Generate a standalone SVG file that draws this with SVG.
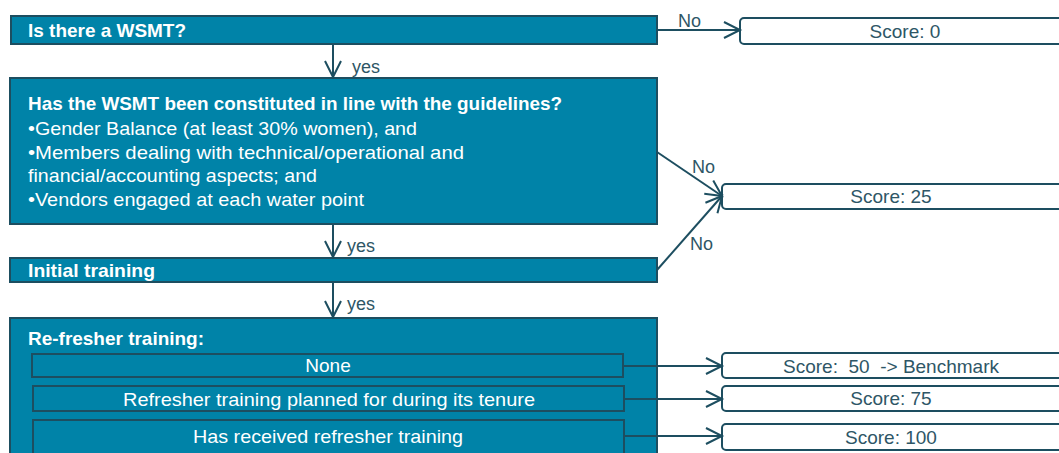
<svg xmlns="http://www.w3.org/2000/svg" width="1059" height="453" viewBox="0 0 1059 453">
<defs>
<style>
.box{fill:#0083a8;stroke:#1d4e60;stroke-width:2}
.sub{fill:#0083a8;stroke:#1d4e60;stroke-width:2}
.score{fill:#ffffff;stroke:#1d4e60;stroke-width:2}
.wt{fill:#ffffff;font-family:"Liberation Sans",Arial,sans-serif;font-size:19px}
.wb{fill:#ffffff;font-family:"Liberation Sans",Arial,sans-serif;font-size:19px;font-weight:bold}
.st{fill:#2e5666;font-family:"Liberation Sans",Arial,sans-serif;font-size:19px;text-anchor:middle;white-space:pre}
.lbl{fill:#2e5666;font-family:"Liberation Sans",Arial,sans-serif;font-size:18px}
.conn{fill:none;stroke:#1d4e60;stroke-width:2}
</style>
<marker id="arr" markerUnits="userSpaceOnUse" markerWidth="20" markerHeight="20" refX="17" refY="9" orient="auto" viewBox="0 0 20 18">
<path d="M1,1 L17,9 L1,17" fill="none" stroke="#1d4e60" stroke-width="2"/>
</marker>
</defs>
<g id="q1">
<rect class="box" x="11" y="16" width="646" height="28"/>
<text class="wb" x="28" y="37" textLength="158" lengthAdjust="spacingAndGlyphs">Is there a WSMT?</text>
</g>
<g id="s0">
<rect class="score" x="740" y="18" width="330" height="26" rx="4"/>
<text class="st" x="905" y="38">Score: 0</text>
</g>
<g id="q2">
<rect class="box" x="10" y="78" width="647" height="146"/>
<text class="wb" x="28" y="110" textLength="534" lengthAdjust="spacingAndGlyphs">Has the WSMT been constituted in line with the guidelines?</text>
<text class="wt" x="28" y="135" textLength="389" lengthAdjust="spacingAndGlyphs">•Gender Balance  (at least 30% women), and</text>
<text class="wt" x="28" y="159" textLength="436" lengthAdjust="spacingAndGlyphs">•Members dealing with technical/operational and</text>
<text class="wt" x="28" y="182" textLength="289" lengthAdjust="spacingAndGlyphs">financial/accounting aspects; and</text>
<text class="wt" x="28" y="206" textLength="336" lengthAdjust="spacingAndGlyphs">•Vendors engaged at each water point</text>
</g>
<g id="s25">
<rect class="score" x="722" y="184" width="340" height="25" rx="4"/>
<text class="st" x="891" y="203">Score: 25</text>
</g>
<g id="q3">
<rect class="box" x="10" y="258" width="647" height="24"/>
<text class="wb" x="28" y="277" textLength="127" lengthAdjust="spacingAndGlyphs">Initial training</text>
</g>
<g id="q4">
<rect class="box" x="10" y="318" width="647" height="140"/>
<text class="wb" x="28" y="345" textLength="176" lengthAdjust="spacingAndGlyphs">Re-fresher training:</text>
</g>
<g id="o1">
<rect class="sub" x="32" y="354" width="591" height="23"/>
<text class="wt" x="328" y="372" text-anchor="middle">None</text>
</g>
<g id="o2">
<rect class="sub" x="33" y="386" width="591" height="25"/>
<text class="wt" x="329" y="406" text-anchor="middle" textLength="412" lengthAdjust="spacingAndGlyphs">Refresher training planned for during its tenure</text>
</g>
<g id="o3">
<rect class="sub" x="33" y="420" width="591" height="34"/>
<text class="wt" x="328" y="443" text-anchor="middle" textLength="270" lengthAdjust="spacingAndGlyphs">Has received refresher training</text>
</g>
<g id="s50">
<rect class="score" x="722" y="353" width="340" height="25" rx="4"/>
<text class="st" x="891" y="373">Score:  50  -&gt; Benchmark</text>
</g>
<g id="s75">
<rect class="score" x="722" y="386" width="340" height="25" rx="4"/>
<text class="st" x="891" y="405">Score: 75</text>
</g>
<g id="s100">
<rect class="score" x="722" y="424" width="340" height="26" rx="4"/>
<text class="st" x="891" y="444">Score: 100</text>
</g>
<g id="connectors">
<line class="conn" x1="657" y1="30" x2="740" y2="30" marker-end="url(#arr)"/>
<text class="lbl" x="678" y="27">No</text>
<line class="conn" x1="333" y1="44" x2="333" y2="77" marker-end="url(#arr)"/>
<text class="lbl" x="352" y="73">yes</text>
<line class="conn" x1="657" y1="152" x2="722" y2="196" marker-end="url(#arr)"/>
<text class="lbl" x="692" y="173">No</text>
<line class="conn" x1="657" y1="270" x2="722" y2="196" marker-end="url(#arr)"/>
<text class="lbl" x="690" y="250">No</text>
<line class="conn" x1="333" y1="224" x2="333" y2="257" marker-end="url(#arr)"/>
<text class="lbl" x="347" y="252">yes</text>
<line class="conn" x1="333" y1="282" x2="333" y2="317" marker-end="url(#arr)"/>
<text class="lbl" x="347" y="310">yes</text>
<line class="conn" x1="623" y1="366" x2="722" y2="366" marker-end="url(#arr)"/>
<line class="conn" x1="624" y1="399" x2="722" y2="399" marker-end="url(#arr)"/>
<line class="conn" x1="624" y1="436" x2="722" y2="436" marker-end="url(#arr)"/>
</g>
</svg>
